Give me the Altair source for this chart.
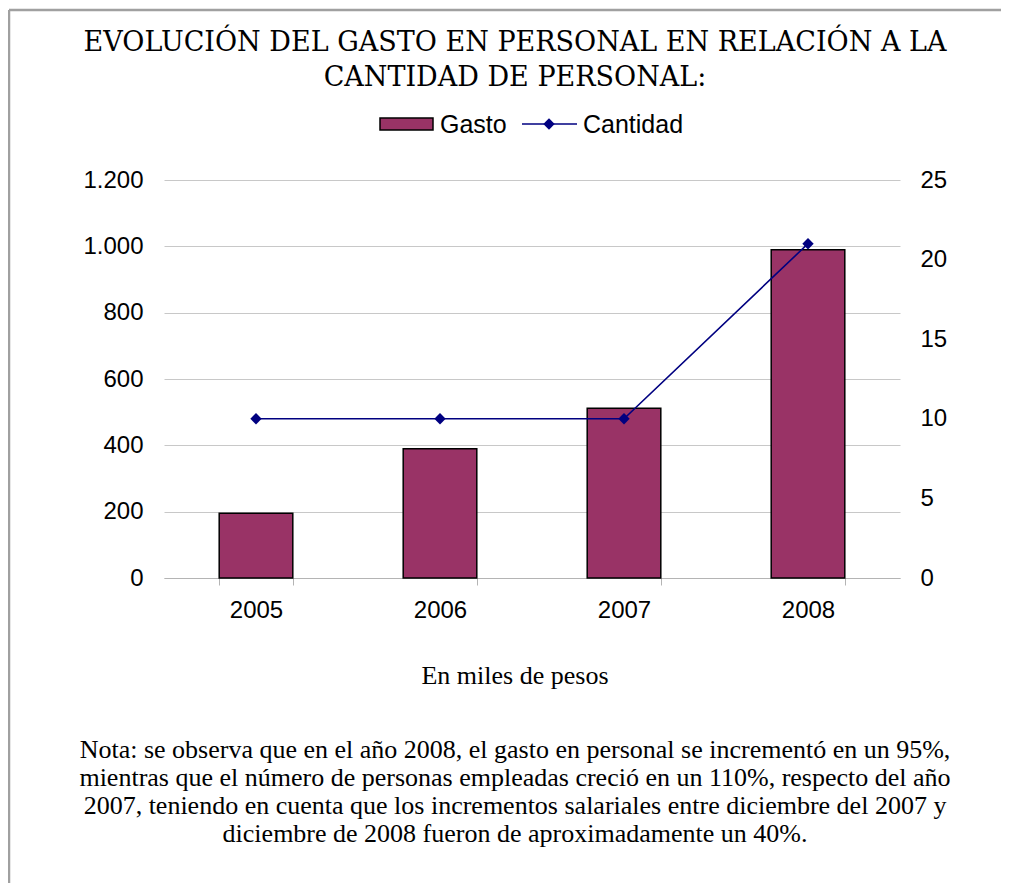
import altair as alt
import pandas as pd

years = ["2005", "2006", "2007", "2008"]
gasto = [195, 390, 512, 990]
cantidad = [10, 10, 10, 21]
gasto_ticks = [0, 200, 400, 600, 800, 1000, 1200]
cantidad_ticks = [0, 5, 10, 15, 20, 25]

title_text = "EVOLUCIÓN DEL GASTO EN PERSONAL EN RELACIÓN A LA\nCANTIDAD DE PERSONAL:"
legend_labels = ["Gasto", "Cantidad"]
unit_text = "En miles de pesos"
note_text = ("Nota: se observa que en el año 2008, el gasto en personal  se incrementó en un 95%,\n"
             "mientras que el número de personas empleadas creció en un 110%, respecto del año\n"
             "2007, teniendo en cuenta que los incrementos salariales entre diciembre del 2007 y\n"
             "diciembre de 2008 fueron de aproximadamente un 40%.")

BAR = "#993366"
LINE = "#000080"
GRID = "#c8c8c8"
FONT = "Liberation Sans"
FS = 24

df = pd.DataFrame({"year": years, "gasto": gasto, "cantidad": cantidad})

xenc = alt.X(
    "year:N",
    scale=alt.Scale(paddingInner=0.6, paddingOuter=0.3),
    axis=alt.Axis(title=None, labelAngle=0, tickBand="extent", grid=False,
                  domainColor="#b4b4b4", tickColor="#b4b4b4", tickSize=7,
                  labelFont=FONT, labelFontSize=FS, labelColor="black",
                  labelPadding=13),
)

bars = alt.Chart(df).mark_bar(color=BAR, stroke="black", strokeWidth=1.5).encode(
    x=xenc,
    y=alt.Y("gasto:Q", scale=alt.Scale(domain=[0, 1200]),
            axis=alt.Axis(title=None, values=gasto_ticks, domain=False, ticks=False,
                          gridColor=GRID, gridWidth=1,
                          labelExpr="replace(format(datum.value, ','), ',', '.')",
                          labelFont=FONT, labelFontSize=FS, labelColor="black",
                          labelPadding=21)),
)

line = alt.Chart(df).mark_line(
    color=LINE, strokeWidth=1.6,
    point=alt.OverlayMarkDef(shape="diamond", size=130, filled=True, color=LINE),
).encode(
    x=xenc,
    y=alt.Y("cantidad:Q", scale=alt.Scale(domain=[0, 25]),
            axis=alt.Axis(title=None, orient="right", values=cantidad_ticks, grid=False,
                          domain=False, ticks=False, labelFont=FONT, labelFontSize=FS,
                          labelColor="black", labelPadding=20)),
)

one = pd.DataFrame({"k": [0]})

frame_top = alt.Chart(one).mark_rule(color="#a0a0a0", strokeWidth=2.5).encode(
    x=alt.value(-155), x2=alt.value(900), y=alt.value(-170))
frame_left = alt.Chart(one).mark_rule(color="#a0a0a0", strokeWidth=2.5).encode(
    x=alt.value(-155), y=alt.value(-170), y2=alt.value(800))

title = alt.Chart(pd.DataFrame({"t": [title_text]})).mark_text(
    font="DejaVu Serif", fontSize=27, lineBreak="\n", lineHeight=35,
    align="center", baseline="alphabetic", color="black",
).encode(text="t:N", x=alt.value(351), y=alt.value(-129))

leg_rect = alt.Chart(one).mark_rect(color=BAR, stroke="black", strokeWidth=1.5).encode(
    x=alt.value(216), x2=alt.value(269), y=alt.value(-62), y2=alt.value(-50))
leg_line = alt.Chart(one).mark_rule(color=LINE, strokeWidth=1.6).encode(
    x=alt.value(358), x2=alt.value(413), y=alt.value(-56))
leg_pt = alt.Chart(one).mark_point(shape="diamond", size=130, filled=True, color=LINE, opacity=1).encode(
    x=alt.value(385), y=alt.value(-56))
leg_t1 = alt.Chart(pd.DataFrame({"t": [legend_labels[0]]})).mark_text(
    font=FONT, fontSize=25, align="left", baseline="middle", color="black"
).encode(text="t:N", x=alt.value(276), y=alt.value(-55))
leg_t2 = alt.Chart(pd.DataFrame({"t": [legend_labels[1]]})).mark_text(
    font=FONT, fontSize=25, align="left", baseline="middle", color="black"
).encode(text="t:N", x=alt.value(419), y=alt.value(-55))

unit = alt.Chart(pd.DataFrame({"t": [unit_text]})).mark_text(
    font="Liberation Serif", fontSize=26, align="center", baseline="middle", color="black"
).encode(text="t:N", x=alt.value(351), y=alt.value(496))

note = alt.Chart(pd.DataFrame({"t": [note_text]})).mark_text(
    font="Liberation Serif", fontSize=26, lineBreak="\n", lineHeight=28,
    align="center", baseline="alphabetic", color="black"
).encode(text="t:N", x=alt.value(351), y=alt.value(578))

chart = alt.layer(
    bars, line, frame_top, frame_left, title, leg_rect, leg_line, leg_pt,
    leg_t1, leg_t2, unit, note
).resolve_scale(y="independent").properties(
    width=736, height=398,
    background="white",
    autosize=alt.AutoSizeParams(type="none"),
    padding={"left": 156, "top": 172, "right": 101, "bottom": 305},
).configure_view(strokeWidth=0, stroke="transparent")

chart.save("out.html", embed_options={"renderer": "svg", "actions": False})
